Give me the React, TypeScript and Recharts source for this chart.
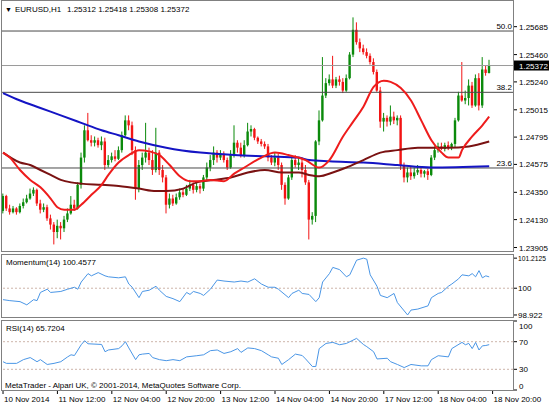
import { ComposedChart, Bar, Line, XAxis, YAxis, ReferenceLine } from 'recharts'

type Candle = [number, number, number, number] // open, high, low, close
type Pair = [number, number] // bar index, value

const FONT = "'Liberation Sans', Arial, sans-serif"
const BULL = '#0b8a0b'
const BEAR = '#f21414'

// EURUSD H1, 10 Nov 20:00 -> 18 Nov 19:00
const candles: Candle[] = [
  [1.2420, 1.2434, 1.2418, 1.2432], [1.2432, 1.2433, 1.2420, 1.2422], [1.2422, 1.2425, 1.2417, 1.2419],
  [1.2419, 1.2424, 1.2418, 1.2422], [1.2422, 1.2423, 1.2417, 1.2419], [1.2419, 1.2426, 1.2418, 1.2424],
  [1.2424, 1.2430, 1.2422, 1.2427], [1.2427, 1.2433, 1.2426, 1.2430], [1.2430, 1.2438, 1.2429, 1.2434],
  [1.2434, 1.2439, 1.2432, 1.2437], [1.2437, 1.2438, 1.2424, 1.2426], [1.2426, 1.2429, 1.2418, 1.2421],
  [1.2421, 1.2426, 1.2419, 1.2423], [1.2423, 1.2425, 1.2412, 1.2414], [1.2414, 1.2417, 1.2405, 1.2409],
  [1.2409, 1.2411, 1.2393, 1.2403], [1.2403, 1.2413, 1.2398, 1.2408], [1.2408, 1.2411, 1.2397, 1.2406],
  [1.2406, 1.2416, 1.2403, 1.2413], [1.2413, 1.2422, 1.2411, 1.2418], [1.2418, 1.2432, 1.2417, 1.2425],
  [1.2425, 1.2429, 1.2420, 1.2422], [1.2422, 1.2443, 1.2421, 1.2441], [1.2441, 1.2467, 1.2438, 1.2463],
  [1.2463, 1.2489, 1.2459, 1.2485], [1.2485, 1.2499, 1.2476, 1.2477], [1.2477, 1.2481, 1.2472, 1.2475],
  [1.2475, 1.2480, 1.2472, 1.2477], [1.2477, 1.2479, 1.2471, 1.2473], [1.2473, 1.2480, 1.2469, 1.2476],
  [1.2476, 1.2479, 1.2453, 1.2457], [1.2457, 1.2465, 1.2455, 1.2461], [1.2461, 1.2467, 1.2459, 1.2464],
  [1.2464, 1.2469, 1.2460, 1.2462], [1.2462, 1.2472, 1.2461, 1.2469], [1.2469, 1.2484, 1.2467, 1.2481],
  [1.2481, 1.2497, 1.2480, 1.2493], [1.2493, 1.2497, 1.2485, 1.2489], [1.2489, 1.2492, 1.2465, 1.2469],
  [1.2469, 1.2472, 1.2429, 1.2438], [1.2438, 1.2461, 1.2435, 1.2457], [1.2457, 1.2467, 1.2453, 1.2463],
  [1.2463, 1.2491, 1.2459, 1.2467], [1.2467, 1.2471, 1.2457, 1.2461], [1.2461, 1.2469, 1.2449, 1.2453],
  [1.2453, 1.2487, 1.2451, 1.2467], [1.2467, 1.2469, 1.2449, 1.2453], [1.2453, 1.2457, 1.2443, 1.2447],
  [1.2447, 1.2449, 1.2418, 1.2425], [1.2425, 1.2434, 1.2422, 1.2430], [1.2430, 1.2433, 1.2424, 1.2426],
  [1.2426, 1.2434, 1.2425, 1.2431], [1.2431, 1.2438, 1.2429, 1.2435], [1.2435, 1.2438, 1.2431, 1.2433],
  [1.2433, 1.2441, 1.2432, 1.2438], [1.2438, 1.2445, 1.2436, 1.2441], [1.2441, 1.2443, 1.2434, 1.2437],
  [1.2437, 1.2443, 1.2435, 1.2440], [1.2440, 1.2442, 1.2434, 1.2438], [1.2438, 1.2449, 1.2436, 1.2447],
  [1.2447, 1.2459, 1.2444, 1.2455], [1.2455, 1.2465, 1.2452, 1.2461], [1.2461, 1.2472, 1.2457, 1.2467],
  [1.2467, 1.2469, 1.2459, 1.2463], [1.2463, 1.2469, 1.2461, 1.2466], [1.2466, 1.2468, 1.2459, 1.2461],
  [1.2461, 1.2463, 1.2453, 1.2455], [1.2455, 1.2469, 1.2454, 1.2465], [1.2465, 1.2489, 1.2463, 1.2475],
  [1.2475, 1.2477, 1.2467, 1.2471], [1.2471, 1.2475, 1.2463, 1.2465], [1.2465, 1.2477, 1.2463, 1.2473],
  [1.2473, 1.2491, 1.2472, 1.2484], [1.2484, 1.2489, 1.2480, 1.2486], [1.2486, 1.2487, 1.2477, 1.2479],
  [1.2479, 1.2480, 1.2474, 1.2476], [1.2476, 1.2478, 1.2472, 1.2474], [1.2474, 1.2476, 1.2470, 1.2472],
  [1.2472, 1.2474, 1.2460, 1.2463], [1.2463, 1.2465, 1.2457, 1.2459], [1.2459, 1.2467, 1.2456, 1.2463],
  [1.2463, 1.2466, 1.2453, 1.2457], [1.2457, 1.2459, 1.2437, 1.2441], [1.2441, 1.2443, 1.2425, 1.2430],
  [1.2430, 1.2449, 1.2429, 1.2447], [1.2447, 1.2463, 1.2445, 1.2461], [1.2461, 1.2465, 1.2455, 1.2457],
  [1.2457, 1.2463, 1.2453, 1.2459], [1.2459, 1.2463, 1.2447, 1.2453], [1.2453, 1.2457, 1.2441, 1.2443],
  [1.2443, 1.2445, 1.2397, 1.2413], [1.2413, 1.2419, 1.2409, 1.2416], [1.2416, 1.2477, 1.2411, 1.2476],
  [1.2476, 1.2501, 1.2473, 1.2493], [1.2493, 1.2544, 1.2492, 1.2513], [1.2513, 1.2527, 1.2511, 1.2523],
  [1.2523, 1.2530, 1.2521, 1.2526], [1.2526, 1.2545, 1.2519, 1.2521], [1.2521, 1.2528, 1.2519, 1.2526],
  [1.2526, 1.2529, 1.2521, 1.2524], [1.2524, 1.2527, 1.2515, 1.2517], [1.2517, 1.2530, 1.2516, 1.2527],
  [1.2527, 1.2548, 1.2526, 1.2546], [1.2546, 1.2576, 1.2544, 1.2566], [1.2566, 1.2572, 1.2554, 1.2556],
  [1.2556, 1.2559, 1.2548, 1.2551], [1.2551, 1.2554, 1.2546, 1.2548], [1.2548, 1.2551, 1.2543, 1.2545],
  [1.2545, 1.2547, 1.2538, 1.2540], [1.2540, 1.2543, 1.2530, 1.2532], [1.2532, 1.2534, 1.2516, 1.2517],
  [1.2517, 1.2520, 1.2487, 1.2492], [1.2492, 1.2499, 1.2484, 1.2495], [1.2495, 1.2497, 1.2488, 1.2492],
  [1.2492, 1.2505, 1.2489, 1.2496], [1.2496, 1.2500, 1.2490, 1.2493], [1.2493, 1.2497, 1.2489, 1.2495],
  [1.2495, 1.2497, 1.2453, 1.2457], [1.2457, 1.2459, 1.2443, 1.2447], [1.2447, 1.2455, 1.2443, 1.2451],
  [1.2451, 1.2456, 1.2445, 1.2448], [1.2448, 1.2455, 1.2446, 1.2451], [1.2451, 1.2457, 1.2449, 1.2453],
  [1.2453, 1.2455, 1.2447, 1.2450], [1.2450, 1.2453, 1.2447, 1.2452], [1.2452, 1.2454, 1.2445, 1.2449],
  [1.2449, 1.2465, 1.2448, 1.2463], [1.2463, 1.2472, 1.2461, 1.2469], [1.2469, 1.2475, 1.2467, 1.2472],
  [1.2472, 1.2475, 1.2469, 1.2470], [1.2470, 1.2475, 1.2468, 1.2473], [1.2473, 1.2476, 1.2469, 1.2471],
  [1.2471, 1.2475, 1.2469, 1.2474], [1.2474, 1.2495, 1.2471, 1.2493], [1.2493, 1.2516, 1.2492, 1.2513],
  [1.2513, 1.2540, 1.2508, 1.2509], [1.2509, 1.2517, 1.2506, 1.2511], [1.2511, 1.2526, 1.2505, 1.2521],
  [1.2521, 1.2524, 1.2503, 1.2505], [1.2505, 1.2530, 1.2504, 1.2527], [1.2527, 1.2531, 1.2501, 1.2505],
  [1.2505, 1.2544, 1.2503, 1.2534], [1.2534, 1.2537, 1.2529, 1.25312], [1.25312, 1.25418, 1.25308, 1.25372],
]

const fastMA: Pair[] = [
  [0, 1.2467], [2, 1.2463], [5, 1.2453], [8, 1.2445], [11, 1.2439], [14, 1.2430], [16, 1.2423], [18, 1.2421],
  [21, 1.2421], [23, 1.2425], [26, 1.2433], [29, 1.2441], [31, 1.2449], [34, 1.2459], [37, 1.2465], [40, 1.2469],
  [43, 1.2468], [46, 1.2465], [49, 1.2457], [52, 1.2448], [55, 1.2444], [58, 1.2444], [61, 1.2445], [65, 1.2444],
  [68, 1.2450], [71, 1.2455], [76, 1.2463], [80, 1.2467], [84, 1.2465], [89, 1.2461], [93, 1.2455], [96, 1.2461],
  [100, 1.2480], [103, 1.2492], [106, 1.2504], [109, 1.2520], [112, 1.2525], [114, 1.2524], [117, 1.2519],
  [120, 1.2509], [123, 1.2493], [126, 1.2477], [129, 1.2467], [131, 1.2463], [134, 1.2463], [135, 1.2469],
  [138, 1.2480], [141, 1.2489], [143, 1.2496],
]
const midMA: Pair[] = [
  [0, 1.2467], [5, 1.2459], [8, 1.2457], [11, 1.2453], [14, 1.2449], [17, 1.2445], [20, 1.2443], [23, 1.2442],
  [29, 1.2441], [34, 1.2440], [40, 1.2438], [45, 1.2436], [48, 1.2436], [53, 1.2438], [57, 1.2443], [62, 1.2445],
  [67, 1.2447], [72, 1.2451], [77, 1.2453], [82, 1.2451], [87, 1.2451], [90, 1.2449], [93, 1.2448], [97, 1.2451],
  [101, 1.2455], [106, 1.2461], [111, 1.2467], [116, 1.2469], [122, 1.2471], [131, 1.2471], [137, 1.2472],
  [143, 1.2476],
]
const slowMA: Pair[] = [
  [0, 1.2515], [5, 1.2509], [11, 1.2503], [17, 1.2497], [23, 1.2491], [29, 1.2485], [34, 1.2481], [40, 1.2476],
  [48, 1.2471], [58, 1.2467], [68, 1.2465], [78, 1.2464], [87, 1.2463], [90, 1.2461], [96, 1.2460], [106, 1.2459],
  [116, 1.2457], [126, 1.2455], [143, 1.2456],
]

const momentum: Pair[] = [
  [0, 99.54], [2, 99.5], [5, 99.46], [7, 99.33], [9, 99.54], [10, 99.5], [11, 99.83], [13, 99.96], [14, 99.83],
  [17, 99.87], [19, 99.96], [21, 100.04], [22, 99.96], [23, 100.25], [25, 100.59], [26, 100.5], [28, 100.63],
  [30, 100.5], [31, 100.46], [34, 100.42], [36, 100.46], [37, 100.17], [38, 100.04], [40, 99.62], [41, 99.87],
  [43, 99.92], [45, 100.08], [46, 99.92], [48, 99.67], [50, 99.58], [52, 99.46], [54, 99.83], [55, 99.75],
  [56, 99.87], [58, 99.79], [59, 99.71], [61, 99.96], [63, 100.33], [65, 100.29], [68, 100.25], [70, 100.29],
  [72, 100.25], [74, 100.38], [76, 100.17], [78, 100.04], [80, 100.04], [81, 99.96], [84, 99.62], [85, 99.79],
  [87, 99.92], [88, 99.79], [90, 99.75], [92, 99.46], [93, 99.62], [94, 100.25], [96, 100.59], [97, 100.84],
  [99, 100.75], [101, 100.46], [102, 100.54], [104, 101.13], [106, 101.2125], [107, 101.17], [108, 100.54],
  [110, 100.08], [111, 99.71], [113, 99.62], [115, 99.79], [116, 99.42], [119, 98.922], [120, 99.12],
  [122, 99.16], [125, 99.29], [126, 99.62], [128, 99.79], [129, 99.83], [131, 100.08], [132, 100.17],
  [134, 100.38], [135, 100.54], [137, 100.5], [138, 100.59], [139, 100.46], [140, 100.71], [141, 100.42],
  [142, 100.5], [143, 100.4577],
]

const rsi: Pair[] = [
  [0, 41], [1, 38.6], [4, 38.6], [6, 44], [8, 47], [10, 41], [11, 44], [13, 37], [15, 38.6], [17, 41], [19, 48],
  [20, 51], [21, 50], [23, 65.6], [24, 71.4], [25, 67], [29, 66], [30, 55.5], [31, 58], [34, 60], [35, 64],
  [36, 70], [37, 61], [39, 44], [40, 51], [41, 52], [43, 53], [44, 47], [46, 44], [48, 42.5], [50, 44],
  [52, 42.5], [54, 48], [57, 49.7], [59, 51], [61, 57], [63, 58], [65, 53], [67, 55.5], [69, 60], [70, 54.5],
  [72, 61], [74, 60], [76, 57], [78, 51], [79, 48], [81, 46], [82, 37], [84, 44], [86, 52], [88, 50], [89, 45],
  [91, 34], [92, 34], [93, 60], [95, 67.5], [97, 69], [99, 65.6], [101, 67.5], [104, 74.8], [106, 66],
  [107, 62.8], [109, 55.5], [110, 45], [113, 46], [114, 41], [116, 37], [118, 32.5], [120, 37], [123, 35],
  [125, 35], [126, 44], [128, 49.7], [131, 48], [132, 60], [135, 69], [136, 65.6], [137, 67.5], [138, 60],
  [139, 69], [140, 58], [141, 64], [142, 64.5], [143, 65.7204],
]

const priceTicks = [1.25685, 1.2546, 1.2524, 1.25015, 1.24795, 1.24575, 1.2435, 1.2413, 1.23905]
const fibLevels = [
  { name: '50.0', price: 1.2565 },
  { name: '38.2', price: 1.25156 },
  { name: '23.6', price: 1.24546 },
]
const lastPrice = 1.25372
const momTicks = [98.922, 100, 101.2125]
const rsiTicks = [0, 30, 70, 100]
const rsiLevels = [30, 70]
const timeTicks = [0, 16, 32, 48, 64, 80, 96, 112, 128, 144]
const timeLabels = [
  '10 Nov 2014', '11 Nov 12:00', '12 Nov 04:00', '12 Nov 20:00', '13 Nov 12:00',
  '14 Nov 04:00', '14 Nov 20:00', '17 Nov 12:00', '18 Nov 04:00', '18 Nov 20:00',
]

const fastMap = new Map(fastMA)
const midMap = new Map(midMA)
const slowMap = new Map(slowMA)
const momMap = new Map(momentum)
const rsiMap = new Map(rsi)

const rows = candles.map(([o, h, l, c], i) => ({
  i, o, h, l, c,
  range: [l, h],
  fast: fastMap.get(i) ?? null,
  mid: midMap.get(i) ?? null,
  slow: slowMap.get(i) ?? null,
  mom: momMap.get(i) ?? null,
  rsi: rsiMap.get(i) ?? null,
}))

const X_DOMAIN: [number, number] = [-0.3, 150]

function CandleShape(props: any) {
  const { x, y, width, height, payload } = props
  if (x == null || !payload) return null
  const top = Math.min(y, y + height)
  const span = Math.abs(height)
  const { o, h, l, c } = payload
  const toY = (v: number) => top + ((h - v) / (h - l)) * span
  const cx = x + width / 2
  const color = c >= o ? BULL : BEAR
  const bTop = toY(Math.max(o, c))
  const bBot = toY(Math.min(o, c))
  return (
    <g>
      <line x1={cx} x2={cx} y1={top} y2={top + span} stroke={color} strokeWidth={1} />
      <rect x={cx - 1.2} y={bTop} width={2.4} height={Math.max(bBot - bTop, 1)} fill={color} />
    </g>
  )
}

function PriceTick({ x, y, payload }: any) {
  return (
    <text x={x} y={y + 3} fontSize={8} fontFamily={FONT} fill="#000">
      {payload.value.toFixed(5)}
    </text>
  )
}

function MomTick({ x, y, payload }: any) {
  const label = String(payload.value)
  // the long top label is squeezed a little so it fits the axis strip
  const squeeze = label.length > 7 ? { textLength: 28, lengthAdjust: 'spacingAndGlyphs' as const } : {}
  return (
    <text x={x - 1} y={y + 3} fontSize={8} fontFamily={FONT} fill="#000" {...squeeze}>
      {label}
    </text>
  )
}

function RsiTick({ x, y, payload }: any) {
  const shift = payload.value === 100 ? 5 : payload.value === 0 ? -4 : 0
  return (
    <text x={x} y={y + 3 + shift} fontSize={8} fontFamily={FONT} fill="#000">
      {String(payload.value)}
    </text>
  )
}

function TimeTick({ x, y, payload }: any) {
  const k = timeTicks.indexOf(payload.value)
  return (
    <text x={x + 1} y={y + 8} fontSize={8} fontFamily={FONT} fill="#000">
      {timeLabels[k]}
    </text>
  )
}

function FibLabel({ viewBox, text }: any) {
  if (!viewBox) return null
  return (
    <text x={viewBox.x + viewBox.width - 1} y={viewBox.y - 2} textAnchor="end" fontSize={8} fontFamily={FONT} fill="#000">
      {text}
    </text>
  )
}

function PriceTag({ viewBox }: any) {
  if (!viewBox) return null
  const x0 = viewBox.x + viewBox.width + 1
  return (
    <g>
      <rect x={x0} y={viewBox.y - 5} width={35} height={10} fill="#000" />
      <text x={x0 + 5} y={viewBox.y + 3} fontSize={8} fontFamily={FONT} fill="#fff">
        {lastPrice.toFixed(5)}
      </text>
    </g>
  )
}

// 6px of padding above and below each panel so edge labels are not clipped
const PAD = 6
const margin = { top: PAD, right: 0, bottom: PAD, left: 2 }

export default function App() {
  return (
    <div style={{ position: 'absolute', left: 0, top: 0, width: 550, height: 406, background: '#fff', overflow: 'hidden' }}>
      <div style={{ position: 'absolute', left: 0, top: 1 - PAD }}>
        <ComposedChart width={550} height={250 + 2 * PAD} data={rows} margin={margin}>
          <XAxis type="number" dataKey="i" domain={X_DOMAIN} allowDataOverflow hide />
          <YAxis
            orientation="right"
            width={37}
            domain={[1.23877, 1.25892]}
            allowDataOverflow
            ticks={priceTicks}
            interval={0}
            tick={<PriceTick />}
            tickSize={4}
            tickMargin={2}
            tickLine={{ stroke: '#000' }}
            axisLine={false}
          />
          {fibLevels.map(lv => (
            <ReferenceLine key={lv.name} y={lv.price} stroke="#4a4a4a" strokeWidth={1} label={<FibLabel text={lv.name} />} />
          ))}
          <ReferenceLine y={lastPrice} stroke="#9a9a9a" strokeWidth={1} label={<PriceTag />} />
          <Bar dataKey="range" barSize={3} shape={<CandleShape />} isAnimationActive={false} />
          <Line dataKey="slow" type="monotone" stroke="#1414c4" strokeWidth={2} dot={false} connectNulls isAnimationActive={false} />
          <Line dataKey="mid" type="monotone" stroke="#7a1212" strokeWidth={2} dot={false} connectNulls isAnimationActive={false} />
          <Line dataKey="fast" type="monotone" stroke="#ee1c1c" strokeWidth={2} dot={false} connectNulls isAnimationActive={false} />
        </ComposedChart>
      </div>

      <div style={{ position: 'absolute', left: 0, top: 254 - PAD }}>
        <ComposedChart width={550} height={64 + 2 * PAD} data={rows} margin={margin}>
          <XAxis type="number" dataKey="i" domain={X_DOMAIN} allowDataOverflow hide />
          <YAxis
            orientation="right"
            width={37}
            domain={[98.8, 101.38]}
            allowDataOverflow
            ticks={momTicks}
            interval={0}
            tick={<MomTick />}
            tickSize={4}
            tickMargin={2}
            tickLine={{ stroke: '#000' }}
            axisLine={false}
          />
          <ReferenceLine y={100} stroke="#cdb5aa" strokeDasharray="2 2" />
          <Line dataKey="mom" type="linear" stroke="#4a96e6" strokeWidth={1} dot={false} connectNulls isAnimationActive={false} />
        </ComposedChart>
      </div>

      <div style={{ position: 'absolute', left: 0, top: 321 - PAD }}>
        <ComposedChart width={550} height={85 + PAD} data={rows} margin={{ ...margin, bottom: 0 }}>
          <XAxis
            type="number"
            dataKey="i"
            domain={X_DOMAIN}
            allowDataOverflow
            ticks={timeTicks}
            interval={0}
            height={16}
            tick={<TimeTick />}
            tickSize={4}
            tickMargin={0}
            tickLine={{ stroke: '#000' }}
            axisLine={false}
          />
          <YAxis
            orientation="right"
            width={37}
            domain={[0, 100]}
            allowDataOverflow
            ticks={rsiTicks}
            interval={0}
            tick={<RsiTick />}
            tickSize={4}
            tickMargin={2}
            tickLine={{ stroke: '#000' }}
            axisLine={false}
          />
          {rsiLevels.map(v => (
            <ReferenceLine key={v} y={v} stroke="#cdb5aa" strokeDasharray="2 2" />
          ))}
          <Line dataKey="rsi" type="linear" stroke="#4a96e6" strokeWidth={1} dot={false} connectNulls isAnimationActive={false} />
        </ComposedChart>
      </div>

      <svg width={550} height={406} style={{ position: 'absolute', left: 0, top: 0, pointerEvents: 'none' }}>
        <rect x={1.5} y={0.5} width={512} height={251} fill="none" stroke="#808080" />
        <rect x={1.5} y={254.5} width={512} height={63} fill="none" stroke="#808080" />
        <rect x={1.5} y={320.5} width={512} height={70} fill="none" stroke="#808080" />
        <g fontFamily={FONT} fontSize={8} fill="#000">
          <text x={5} y={12} fontSize={7}>▼</text>
          <text x={15} y={12}>EURUSD,H1</text>
          <text x={67} y={12}>1.25312 1.25418 1.25308 1.25372</text>
          <text x={6} y={265}>Momentum(14) 100.4577</text>
          <text x={6} y={331}>RSI(14) 65.7204</text>
          <text x={5} y={388}>MetaTrader - Alpari UK, © 2001-2014, MetaQuotes Software Corp.</text>
        </g>
      </svg>
    </div>
  )
}
